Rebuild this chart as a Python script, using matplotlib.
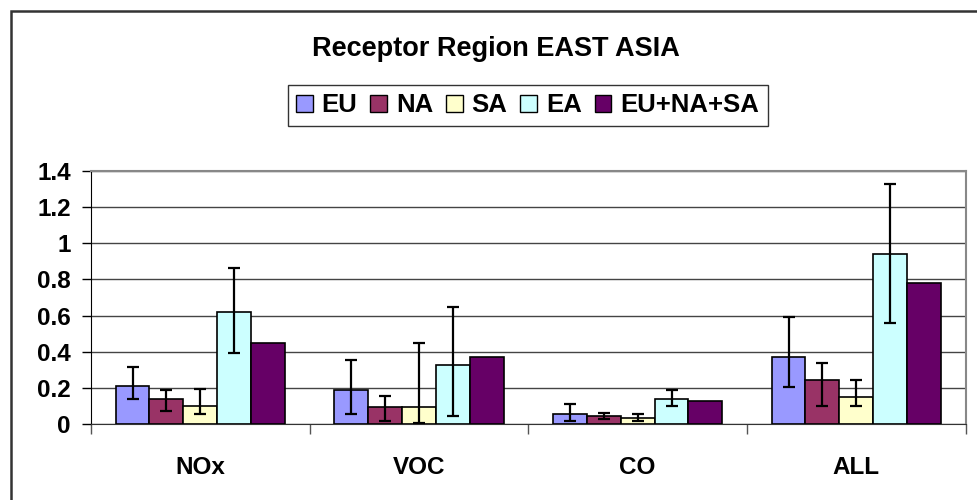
import numpy as np
import matplotlib
matplotlib.use('Agg')
from matplotlib import pyplot as plt
from matplotlib.patches import Patch, Rectangle

plt.rcParams['font.family'] = ['Liberation Sans', 'DejaVu Sans']
plt.rcParams['font.weight'] = 'bold'

# species perturbed and source regions
categories = ['NOx', 'VOC', 'CO', 'ALL']
regions = ['EU', 'NA', 'SA', 'EA', 'EU+NA+SA']
colors = ['#9999FF', '#993366', '#FFFFCC', '#CCFFFF', '#660066']

# response at receptor EAST ASIA (mean, lower and upper of model spread)
means = {
    'EU':       [0.21, 0.19, 0.057, 0.373],
    'NA':       [0.14, 0.094, 0.046, 0.245],
    'SA':       [0.103, 0.094, 0.037, 0.149],
    'EA':       [0.618, 0.327, 0.141, 0.939],
    'EU+NA+SA': [0.45, 0.373, 0.13, 0.779],
}
lows = {
    'EU': [0.141, 0.057, 0.018, 0.206],
    'NA': [0.073, 0.018, 0.03, 0.103],
    'SA': [0.057, 0.009, 0.018, 0.103],
    'EA': [0.395, 0.046, 0.103, 0.561],
}
highs = {
    'EU': [0.318, 0.355, 0.112, 0.593],
    'NA': [0.19, 0.158, 0.064, 0.338],
    'SA': [0.197, 0.45, 0.057, 0.245],
    'EA': [0.865, 0.649, 0.188, 1.325],
}
yticks = [0, 0.2, 0.4, 0.6, 0.8, 1, 1.2, 1.4]
ytick_labels = ['0', '0.2', '0.4', '0.6', '0.8', '1', '1.2', '1.4']

#================================================================================================================================================
fig = plt.figure(figsize=(9.77, 5.0), dpi=100)
ax = fig.add_axes([0.0931, 0.1514, 0.8953, 0.5072])

x = np.arange(len(categories))
barWidth = 0.155
for i, reg in enumerate(regions):
    pos = x + (i - 2) * barWidth
    vals = np.array(means[reg])
    ax.bar(pos, vals, barWidth, color=colors[i], edgecolor='black', linewidth=1.2, zorder=3)
    if reg in lows:
        err = [vals - np.array(lows[reg]), np.array(highs[reg]) - vals]
        ax.errorbar(pos, vals, yerr=err, fmt='none', ecolor='black', elinewidth=1.6,
                    capsize=4.5, capthick=1.6, zorder=4)

ax.set_xlim(-0.5, len(categories) - 0.5)
ax.set_ylim(0, 1.4)
ax.set_yticks(yticks)
ax.set_yticklabels(ytick_labels, fontsize=17.5, fontweight='bold')
ax.yaxis.grid(True, color='#444444', linewidth=1.0, zorder=0)

# boundaries get the tick marks, centres get the labels
ax.set_xticks(np.arange(len(categories) + 1) - 0.5)
ax.set_xticklabels([])
ax.set_xticks(x, minor=True)
ax.set_xticklabels(categories, minor=True, fontsize=17.5, fontweight='bold')
ax.tick_params(axis='x', which='major', length=7, width=1.0, color='#555555', direction='out')
ax.tick_params(axis='x', which='minor', length=0, pad=23)
ax.tick_params(axis='y', length=6.5, width=1.0, pad=8)

for side in ['top', 'right']:
    ax.spines[side].set_color('#888888')
    ax.spines[side].set_linewidth(1.5)
ax.spines['left'].set_color('black')
ax.spines['bottom'].set_color('#333333')

fig.text(0.508, 0.902, 'Receptor Region EAST ASIA', ha='center', va='center',
         fontsize=19.5, fontweight='bold')

handles = [Patch(facecolor=c, edgecolor='black', linewidth=1.0) for c in colors]
leg = fig.legend(handles, regions, loc='center', bbox_to_anchor=(0.54, 0.789), ncol=5,
                 frameon=True, fancybox=False, edgecolor='black',
                 handlelength=0.65, handleheight=0.65, handletextpad=0.35, columnspacing=0.5,
                 borderpad=0.32, borderaxespad=0, prop={'weight': 'bold', 'size': 18.5})
leg.get_frame().set_linewidth(1.0)

# outer chart border
fig.patches.append(Rectangle((11 / 977, -0.5), 1.5, 1.5 - 11 / 500, transform=fig.transFigure,
                             fill=False, edgecolor='#333333', linewidth=1.8, zorder=0))

fig.savefig('out.png', dpi=100)
